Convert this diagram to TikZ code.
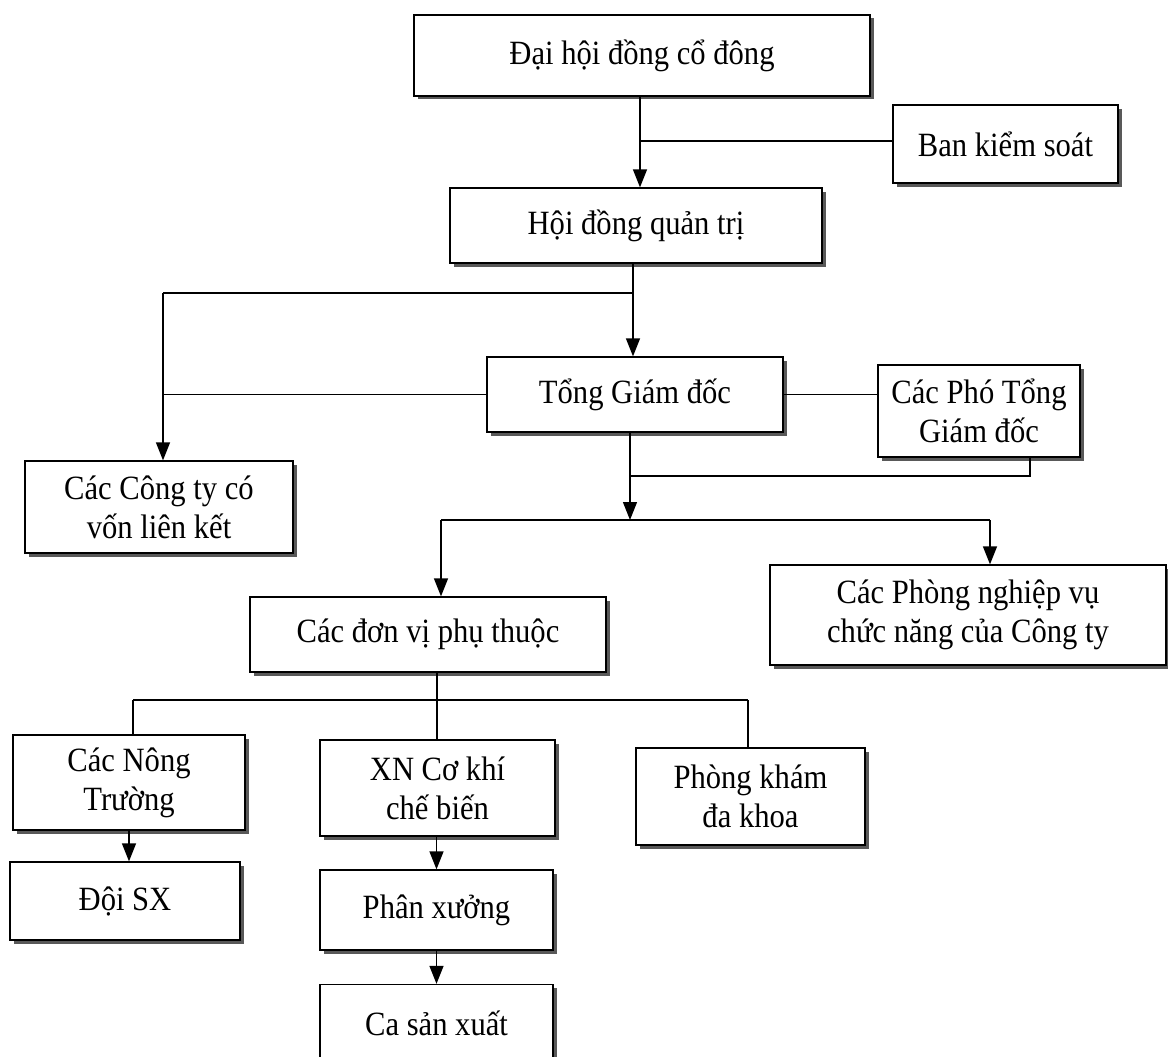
\documentclass[tikz,border=0pt]{standalone}
\usepackage{fontspec}
\setmainfont{Liberation Serif}[FakeStretch=0.9]
\usetikzlibrary{arrows.meta,shadows,calc}
\begin{document}
\begin{tikzpicture}[x=1pt,y=-1pt,
  box/.style={draw,line width=1.3pt,fill=white,align=center,inner sep=2pt,
    font=\fontsize{34}{39}\selectfont,
    drop shadow={shadow xshift=3.5pt,shadow yshift=-3.5pt,fill=black!65,opacity=1}},
  ln/.style={line width=1.3pt},
  arr/.style={line width=1.3pt,-{Triangle[length=18pt,width=14pt]}}]
\useasboundingbox (0,0) rectangle (1168,1057);
\fill[white] (0,0) rectangle (1168,1057);
% boxes
\node[box,minimum width=456pt,minimum height=81pt] (dh) at (642,55.5) {Đại hội đồng cổ đông};
\node[box,minimum width=225pt,minimum height=78pt] (bks) at (1005.5,144) {Ban kiểm soát};
\node[box,minimum width=372pt,minimum height=75pt] (hdqt) at (636,225.5) {Hội đồng quản trị};
\node[box,minimum width=296pt,minimum height=75pt] (tgd) at (635,394.5) {Tổng Giám đốc};
\node[box,minimum width=202pt,minimum height=92pt] (pho) at (979,411) {Các Phó Tổng\\Giám đốc};
\node[box,minimum width=268pt,minimum height=92pt] (cty) at (159,507) {Các Công ty có\\vốn liên kết};
\node[box,minimum width=396pt,minimum height=100pt] (phong) at (968,615) {Các Phòng nghiệp vụ\\chức năng của Công ty};
\node[box,minimum width=356pt,minimum height=75pt] (dv) at (428,634.5) {Các đơn vị phụ thuộc};
\node[box,minimum width=232pt,minimum height=95pt] (nt) at (129,782.5) {Các Nông\\Trường};
\node[box,minimum width=235pt,minimum height=96pt] (xn) at (437.5,788) {XN Cơ khí\\chế biến};
\node[box,minimum width=229pt,minimum height=97pt] (pk) at (750.5,796.5) {Phòng khám\\đa khoa};
\node[box,minimum width=230pt,minimum height=78pt] (doi) at (125,901) {Đội SX};
\node[box,minimum width=233pt,minimum height=80pt] (px) at (436.5,910) {Phân xưởng};
\node[box,minimum width=233pt,minimum height=77pt,text depth=0pt] (ca) at (436.5,1023) {Ca sản xuất};
% junction points
\coordinate (c1) at (640,141);
\coordinate (c2) at (633,293);
\coordinate (c3) at (163,293);
\coordinate (c4) at (630,476);
\coordinate (c5) at (630,520);
\coordinate (c6) at (1030,476);
\coordinate (c7) at (441,520);
\coordinate (c8) at (990,520);
\coordinate (c9) at (437,700);
\coordinate (c10) at (133,700);
\coordinate (c11) at (748,700);
% connectors
\draw[arr] (dh.south -| c1) -- (hdqt.north -| c1);
\draw[ln] (c1) -- (c1 -| bks.west);
\draw[arr] (hdqt.south -| c2) -- (tgd.north -| c2);
\draw[ln] (c2) -- (c3);
\draw[arr] (c3) -- (cty.north -| c3);
\draw[ln] (tgd.west) -- (tgd.west -| c3);
\draw[ln] (tgd.east) -- (tgd.east -| pho.west);
\draw[arr] (tgd.south -| c4) -- (c5);
\draw[ln] (c4) -- (c6) -- (pho.south -| c6);
\draw[ln] (c7) -- (c8);
\draw[arr] (c7) -- (dv.north -| c7);
\draw[arr] (c8) -- (phong.north -| c8);
\draw[ln] (dv.south -| c9) -- (c9);
\draw[ln] (c10) -- (c11);
\draw[ln] (c10) -- (nt.north -| c10);
\draw[ln] (c9) -- (xn.north -| c9);
\draw[ln] (c11) -- (pk.north -| c11);
\draw[arr] (nt.south) -- (nt.south |- doi.north);
\draw[arr] (px.north |- xn.south) -- (px.north);
\draw[arr] (px.south) -- (ca.north);
\end{tikzpicture}
\end{document}
